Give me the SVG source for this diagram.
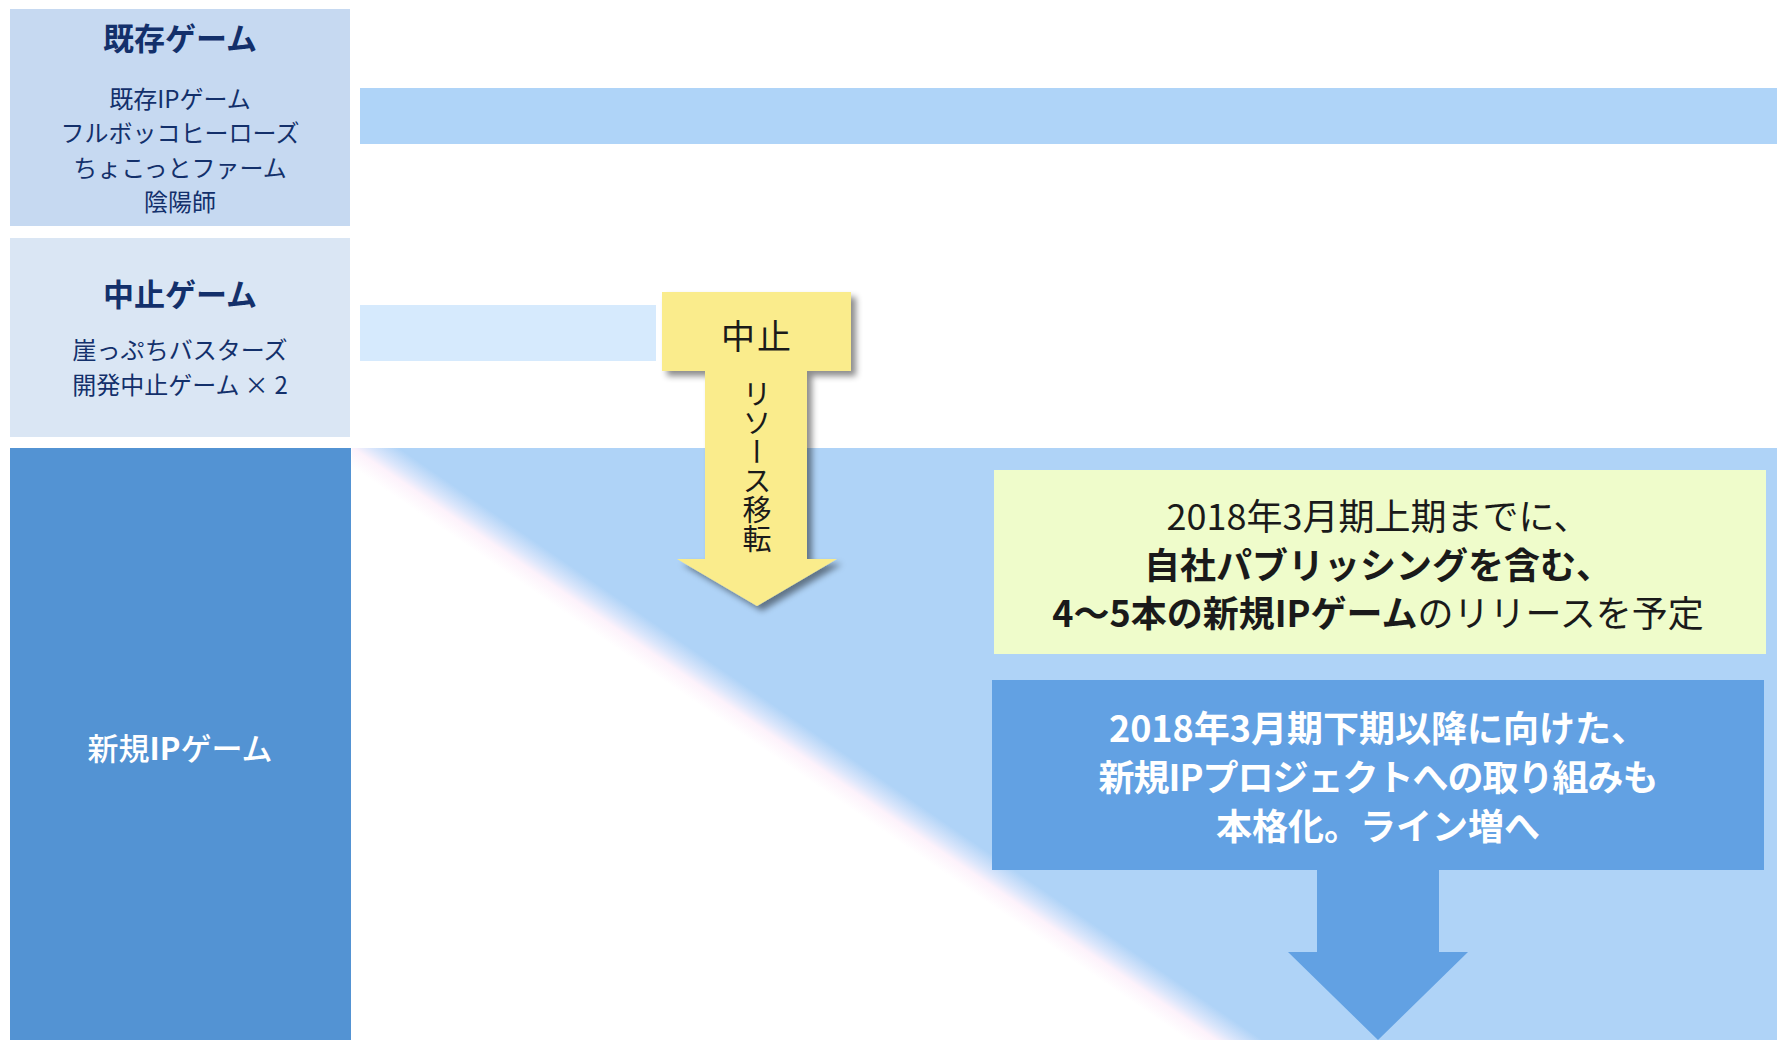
<svg xmlns="http://www.w3.org/2000/svg" width="1777" height="1040" viewBox="0 0 1777 1040">
  <style>
    .jp { font-family: "Noto Sans CJK JP", "Noto Sans", sans-serif; }
    .navy { fill: #13306b; }
    .title { font-size: 31px; font-weight: bold; text-anchor: middle; }
    .sub { font-size: 24px; text-anchor: middle; }
    .white { fill: #ffffff; }
    .dark { fill: #1a1a1a; }
    .big { font-size: 36px; text-anchor: middle; }
    .b { font-weight: bold; }
  </style>
  <defs>
    <linearGradient id="diag" gradientUnits="userSpaceOnUse" x1="782" y1="762" x2="806" y2="727">
      <stop offset="0" stop-color="#ffffff"/>
      <stop offset="0.38" stop-color="#fdf2fb"/>
      <stop offset="0.62" stop-color="#dbe6fb"/>
      <stop offset="1" stop-color="#afd3f7"/>
    </linearGradient>
    <filter id="shadow" x="-20%" y="-20%" width="150%" height="150%">
      <feDropShadow dx="5" dy="5" stdDeviation="3" flood-color="#000000" flood-opacity="0.45"/>
    </filter>
  </defs>

  <rect width="1777" height="1040" fill="#ffffff"/>

  <!-- background bands -->
  <g id="bands">
    <rect x="360" y="88" width="1417" height="56" fill="#afd4f8"/>
    <rect x="360" y="305" width="296" height="56" fill="#d6eafd"/>
    <rect x="352" y="448" width="1425" height="592" fill="url(#diag)"/>
  </g>

  <g id="node-existing">
    <rect x="10" y="9" width="340" height="217" fill="#c6d9f1"/>
    <text class="jp navy title" x="180" y="50">既存ゲーム</text>
    <text class="jp navy sub" x="180" y="108">既存IPゲーム</text>
    <text class="jp navy sub" x="180" y="142">フルボッコヒーローズ</text>
    <text class="jp navy sub" x="180" y="177">ちょこっとファーム</text>
    <text class="jp navy sub" x="180" y="211">陰陽師</text>
  </g>

  <g id="node-cancelled">
    <rect x="10" y="238" width="340" height="199" fill="#dae6f4"/>
    <text class="jp navy title" x="180" y="306">中止ゲーム</text>
    <text class="jp navy sub" x="180" y="359">崖っぷちバスターズ</text>
    <text class="jp navy sub" x="180" y="394">開発中止ゲーム<tspan dx="5">×</tspan><tspan dx="6">2</tspan></text>
  </g>

  <g id="node-new-ip">
    <rect x="10" y="448" width="341" height="592" fill="#5393d3"/>
    <text class="jp white" x="180" y="760" font-size="31" font-weight="500" text-anchor="middle">新規<tspan font-weight="bold">IP</tspan>ゲーム</text>
  </g>

  <g id="node-plan">
    <rect x="994" y="470" width="772" height="184" fill="#effccb"/>
    <text class="jp dark big" x="1378" y="530">2018年3月期上期までに、</text>
    <text class="jp dark big b" x="1378" y="579">自社パブリッシングを含む、</text>
    <text class="jp dark big" x="1378" y="627"><tspan font-weight="bold">4～5本の新規IPゲーム</tspan>のリリースを予定</text>
  </g>

  <g id="connectors">
    <g id="arrow-cancel" filter="url(#shadow)">
      <path d="M662,292 H851 V371 H807 V559 H837 L757,606 L677,559 H705 V371 H662 Z" fill="#faec8c"/>
    </g>
    <text class="jp dark" x="757" y="349" font-size="34" text-anchor="middle" letter-spacing="2">中止</text>
    <text class="jp dark" x="757" y="379" font-size="29" style="writing-mode: vertical-rl; text-orientation: upright;">リソース移転</text>

    <g id="arrow-future">
      <path d="M992,680 H1764 V870 H1439 V952 H1468 L1378,1040 L1288,952 H1317 V870 H992 Z" fill="#62a1e3"/>
      <text class="jp white big b" x="1378" y="742">2018年3月期下期以降に向けた、</text>
      <text class="jp white big b" x="1378" y="791" letter-spacing="-1">新規IPプロジェクトへの取り組みも</text>
      <text class="jp white big b" x="1378" y="840">本格化。ライン増へ</text>
    </g>
  </g>
</svg>
